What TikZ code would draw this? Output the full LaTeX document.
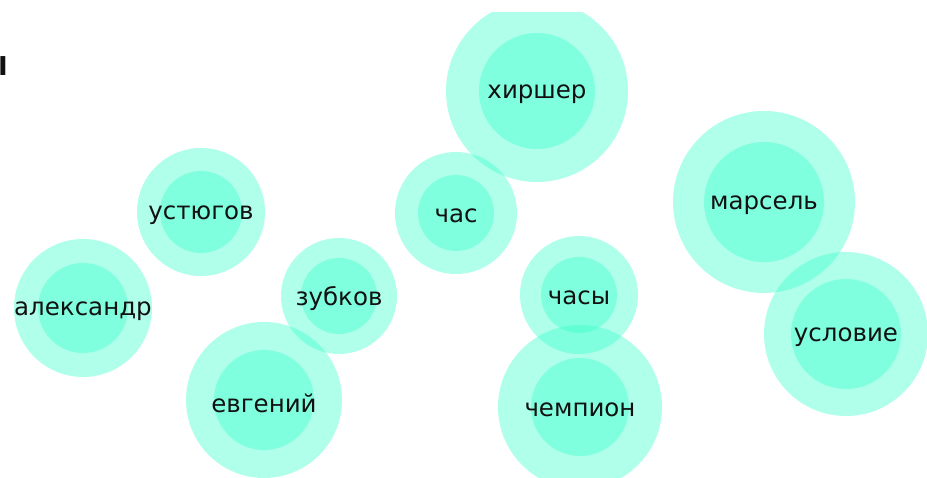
\documentclass[tikz,border=0pt]{standalone}
\usepackage{fontspec}
\setmainfont{DejaVu Sans}
\usepackage{tikz}
\usetikzlibrary{positioning}
\definecolor{bubblefill}{HTML}{37FFCB}
\definecolor{bubbletext}{HTML}{111111}
\tikzset{
  bubbleouter/.style={
    circle, inner sep=0pt, fill=bubblefill, fill opacity=0.4
  },
  bubbleinner/.style={
    circle, inner sep=0pt, fill=bubblefill, fill opacity=0.4
  },
  bubblelabel/.style={
    inner sep=0pt, yshift=-3pt, font=\fontsize{24.5}{28}\selectfont,
    text=bubbletext
  },
}
\begin{document}
\begin{tikzpicture}[x=1pt, y=-1pt]
  \useasboundingbox (0,0) rectangle (927,478);

  % Outer rings
  \begin{scope}
    \clip (0,13) rectangle (927,478);
    \node[bubbleouter, minimum size=182pt] (hirsher)   at (537,91)  {};
    \node[bubbleouter, minimum size=122pt] (chas)      at (456,213) {};
    \node[bubbleouter, minimum size=128pt] (ustyugov)  at (201,212) {};
    \node[bubbleouter, minimum size=138pt] (aleksandr) at (83,308)  {};
    \node[bubbleouter, minimum size=116pt] (zubkov)    at (339,296) {};
    \node[bubbleouter, minimum size=156pt] (evgeniy)   at (264,400) {};
    \node[bubbleouter, minimum size=118pt] (chasy)     at (579,295) {};
    \node[bubbleouter, minimum size=164pt] (chempion)  at (580,407) {};
    \node[bubbleouter, minimum size=182pt] (marsel)    at (764,202) {};
    \node[bubbleouter, minimum size=164pt] (uslovie)   at (846,334) {};

    % Inner cores
    \node[bubbleinner, minimum size=116pt] at (hirsher)   {};
    \node[bubbleinner, minimum size=76pt]  at (chas)      {};
    \node[bubbleinner, minimum size=82pt]  at (ustyugov)  {};
    \node[bubbleinner, minimum size=90pt]  at (aleksandr) {};
    \node[bubbleinner, minimum size=76pt]  at (zubkov)    {};
    \node[bubbleinner, minimum size=100pt] at (evgeniy)   {};
    \node[bubbleinner, minimum size=76pt]  at (chasy)     {};
    \node[bubbleinner, minimum size=98pt]  at (chempion)  {};
    \node[bubbleinner, minimum size=120pt] at (marsel)    {};
    \node[bubbleinner, minimum size=110pt] at (uslovie)   {};
  \end{scope}

  % Labels
  \node[bubblelabel] (hirsher-text)   at (hirsher)   {хиршер};
  \node[bubblelabel] (chas-text)      at (chas)      {час};
  \node[bubblelabel] (ustyugov-text)  at (ustyugov)  {устюгов};
  \node[bubblelabel] (aleksandr-text) at (aleksandr) {александр};
  \node[bubblelabel] (zubkov-text)    at (zubkov)    {зубков};
  \node[bubblelabel] (evgeniy-text)   at (evgeniy)   {евгений};
  \node[bubblelabel] (chasy-text)     at (chasy)     {часы};
  \node[bubblelabel] (chempion-text)  at (chempion)  {чемпион};
  \node[bubblelabel] (marsel-text)    at (marsel)    {марсель};
  \node[bubblelabel] (uslovie-text)   at (uslovie)   {условие};

  % Cut-off mark at the left edge
  \node[bubblelabel, yshift=3pt, font=\bfseries\fontsize{26}{30}\selectfont]
    (edgemark) at (3,66) {I};
\end{tikzpicture}
\end{document}
